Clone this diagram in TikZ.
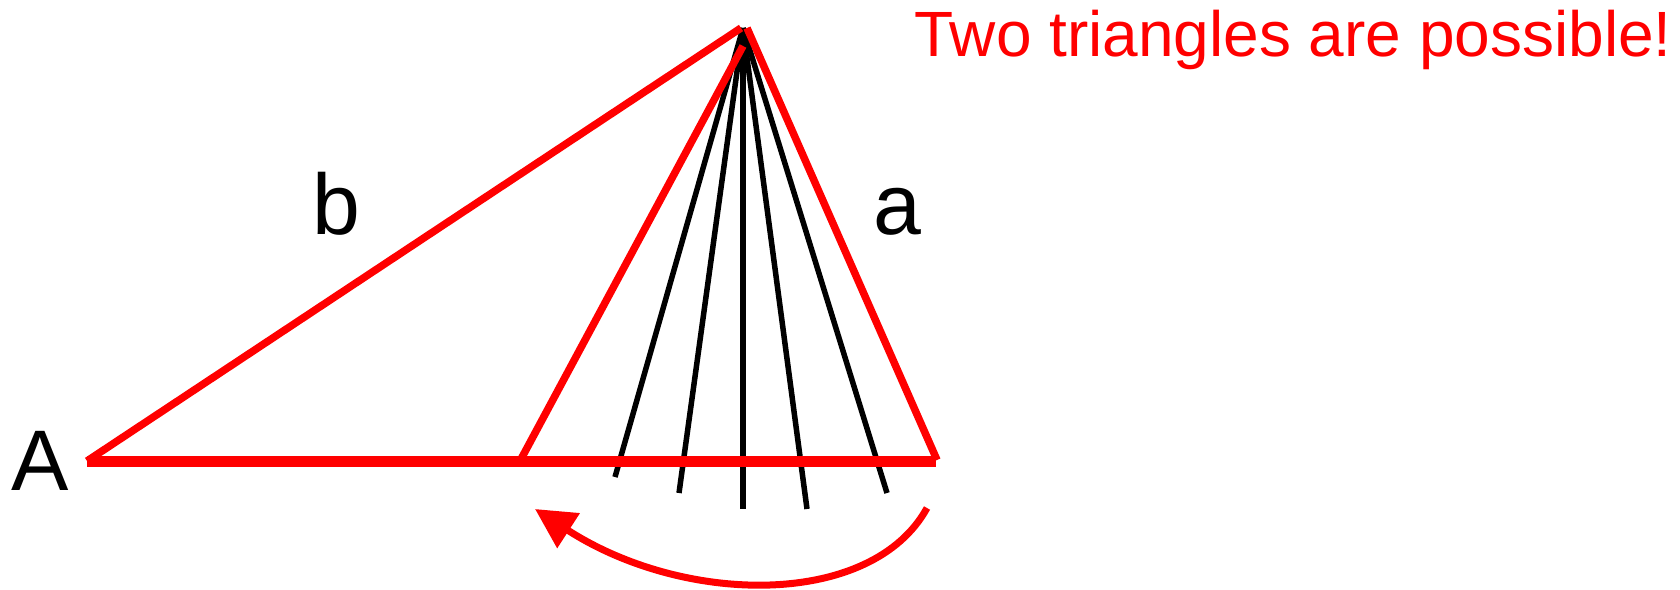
\documentclass[tikz,border=0pt]{standalone}
\usepackage{fontspec}
\setmainfont{Liberation Sans}
\usetikzlibrary{arrows.meta}
\definecolor{pred}{RGB}{255,0,0}
\tikzset{
  redside/.style={draw=pred,line width=7.5pt},
  baseside/.style={draw=pred,line width=11pt},
  swing/.style={draw=black,line width=5.5pt},
  lbl/.style={anchor=base west,inner sep=0pt,font=\fontsize{86}{96}\selectfont},
  ttl/.style={anchor=base west,inner sep=0pt,text=pred,font=\fontsize{64}{72}\selectfont},
  turn/.style={draw=pred,line width=7pt,-{Triangle[length=40pt,width=40pt]}}
}
\begin{document}
\begin{tikzpicture}[x=1pt,y=-1pt]
\useasboundingbox (0,0) rectangle (1680,589);
% vertices
\coordinate (A) at (87,461);
\coordinate (Cl) at (520,461);
\coordinate (Cr) at (936,461);
\coordinate (Ctop) at (937,460);
\coordinate (B) at (741,28);
\coordinate (Br) at (747,28);
\coordinate (Bs) at (743,46);
\coordinate (P) at (743,28);
% swinging side ends
\coordinate (s1) at (615,477);
\coordinate (s2) at (679,493);
\coordinate (s3) at (743,509);
\coordinate (s4) at (807,509);
\coordinate (s5) at (887,493);
% arrow ends
\coordinate (r0) at (927,508);
\coordinate (r1) at (535,509);
% black swinging lines
\foreach \s in {s1,s2,s3,s4,s5} \draw[swing] (P) -- (\s);
% red triangle sides
\draw[baseside] (A) -- (Cr);
\draw[redside] (A) -- (B);
\draw[redside] (Br) -- (Ctop);
\draw[redside] (Cl) -- (Bs);
% turning arrow
\draw[turn] (r0) .. controls (872,608) and (685,606) .. (r1);
% labels
\node[lbl] (lA) at (11,490) {A};
\node[lbl] (lb) at (312,234) {b};
\node[lbl] (la) at (873,234) {a};
\node[ttl] (title) at (914,56) {Two triangles are possible!};
\end{tikzpicture}
\end{document}
